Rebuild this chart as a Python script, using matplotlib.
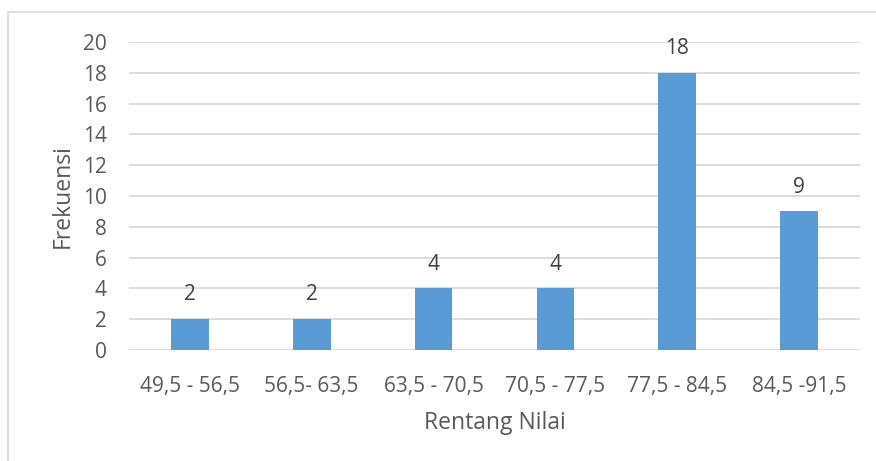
import matplotlib.pyplot as plt
from matplotlib.lines import Line2D

rentang = ["49,5 - 56,5", "56,5- 63,5", "63,5 - 70,5", "70,5 - 77,5", "77,5 - 84,5", "84,5 -91,5"]
frekuensi = [2, 2, 4, 4, 18, 9]
y_ticks = [0, 2, 4, 6, 8, 10, 12, 14, 16, 18, 20]

plt.rcParams['font.family'] = ['Open Sans', 'DejaVu Sans']
text_color = '#595959'

fig = plt.figure(figsize=(8.76, 4.61), dpi=100)
ax = fig.add_axes([129 / 876, 1 - 350 / 461, (860 - 129) / 876, (350 - 42) / 461])

x = range(len(rentang))
bars = ax.bar(x, frekuensi, width=0.31, color='#5B9BD5', zorder=3)
for b, v in zip(bars, frekuensi):
    ax.annotate(str(v), (b.get_x() + b.get_width() / 2, v), xytext=(0, 10),
                textcoords='offset points', ha='center', va='bottom',
                fontsize=15, color='#404040')

ax.set_xlim(-0.5, len(rentang) - 0.5)
ax.set_ylim(0, 20)
ax.set_yticks(y_ticks)
ax.set_xticks(list(x))
ax.set_xticklabels(rentang)
ax.grid(axis='y', color='#D9D9D9', linewidth=1.3, zorder=0)
ax.tick_params(length=0, labelsize=15, colors=text_color)
ax.tick_params(axis='x', pad=19)
ax.tick_params(axis='y', pad=16)
for s in ax.spines.values():
    s.set_visible(False)

ax.set_xlabel("Rentang Nilai", fontsize=16.5, color=text_color, labelpad=10)
ax.set_ylabel("Frekuensi", fontsize=16.5, color=text_color, labelpad=6)

# chart area outline
fig.add_artist(Line2D([8 / 876, 8 / 876], [0, 1 - 12 / 461], color='#D9D9D9', lw=1.2))
fig.add_artist(Line2D([8 / 876, 1], [1 - 12 / 461, 1 - 12 / 461], color='#D9D9D9', lw=1.2))

fig.savefig("out.png", dpi=100)
